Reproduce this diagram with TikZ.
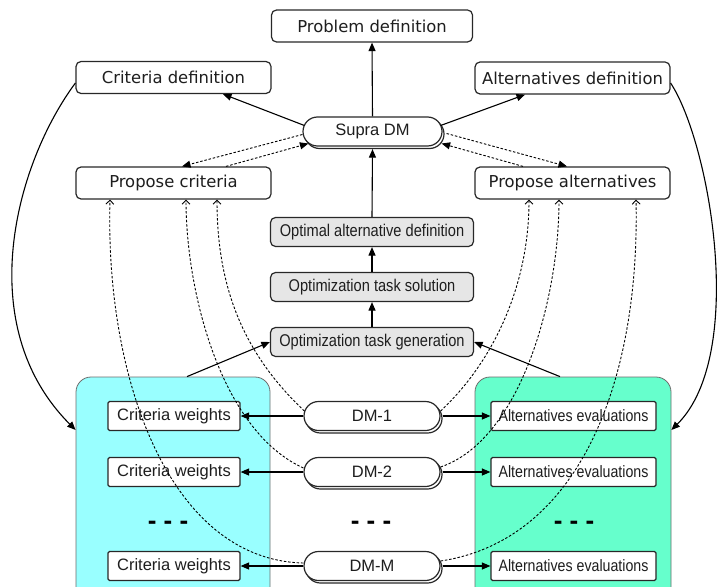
\documentclass[tikz,border=0pt]{standalone}
\usepackage{fontspec}
\usetikzlibrary{arrows.meta,shapes.misc,shadows,calc}
\newfontfamily\verd{DejaVu Sans}
\newfontfamily\ari{Liberation Sans}
\newfontfamily\arinar[FakeStretch=0.86]{Liberation Sans}
\definecolor{cyanp}{RGB}{153,255,255}
\definecolor{greenp}{RGB}{102,255,204}
\definecolor{grayb}{RGB}{230,230,230}
\definecolor{bord}{RGB}{40,40,40}
\definecolor{txt}{RGB}{30,30,30}
\definecolor{pbord}{RGB}{110,110,110}
\begin{document}
\begin{tikzpicture}[x=1pt,y=-1pt,
  topbox/.style={draw=bord, line width=1.2pt, rounded corners=5pt, fill=white,
    minimum width=#1, minimum height=32pt, inner sep=0pt, text=txt,
    font=\verd\fontsize{16.4}{18}\selectfont},
  graybox/.style={draw=bord, line width=1.2pt, rounded corners=5pt, fill=grayb,
    minimum width=203pt, minimum height=29pt, inner sep=0pt, text=txt,
    font=\arinar\fontsize{17}{19}\selectfont},
  pill/.style={rounded rectangle, draw=bord, line width=1.2pt, fill=white,
    minimum width=#1, minimum height=29pt, inner sep=0pt, text=txt,
    copy shadow={shadow xshift=2pt, shadow yshift=-2.5pt},
    font=\ari\fontsize{16.5}{18}\selectfont},
  wbox/.style={draw=bord, line width=1.2pt, rounded corners=1.5pt, fill=white,
    minimum width=#1, minimum height=29pt, inner sep=0pt, text=txt},
  panel/.style={draw=pbord, line width=0.8pt, rounded corners=15pt,
    minimum height=230pt, inner sep=0pt},
  dots/.style={font=\ari\bfseries\fontsize{26}{28}\selectfont, anchor=base, inner sep=0pt},
  arr/.style={-{Triangle[length=8.5pt,width=7pt]}, line width=1.1pt, draw=black},
  darr/.style={-{Triangle[length=8.5pt,width=7pt]}, line width=0.9pt,
    dash pattern=on 2.5pt off 1.8pt},
  dcur/.style={-{Straight Barb[length=4pt,width=8pt]}, line width=0.9pt,
    dash pattern=on 2.5pt off 1.8pt}
]
\useasboundingbox (0,0) rectangle (722,586);
\fill[white] (0,0) rectangle (722,586);

% panels
\node[panel, fill=cyanp, minimum width=194pt] (lp) at (173,492) {};
\node[panel, fill=greenp, minimum width=196pt] (rp) at (573,492) {};

% top boxes
\node[topbox=201pt] (pd) at (372,26) {Problem definition};
\node[topbox=195pt] (cd) at (173.5,77.5) {Criteria definition};
\node[topbox=195pt] (ad) at (572.5,78) {Alternatives definition};
\node[topbox=195pt] (pc) at (173.5,183) {Propose criteria};
\node[topbox=195pt] (pa) at (572.5,183) {Propose alternatives};
\node[pill=139pt] (sdm) at (372.5,131.5) {Supra DM};

% gray chain
\node[graybox] (opt) at (372,232) {Optimal alternative definition};
\node[graybox] (sol) at (372,287) {Optimization task solution};
\node[graybox] (gen) at (372,342) {Optimization task generation};

% rows
\node[wbox=132pt, font=\ari\fontsize{16.5}{18}\selectfont] (cw1) at (174,416) {Criteria weights};
\node[wbox=132pt, font=\ari\fontsize{16.5}{18}\selectfont] (cw2) at (174,472) {Criteria weights};
\node[wbox=132pt, font=\ari\fontsize{16.5}{18}\selectfont] (cw3) at (174,566) {Criteria weights};
\node[wbox=165pt, font=\arinar\fontsize{16.5}{18}\selectfont] (ae1) at (573.5,416) {Alternatives evaluations};
\node[wbox=165pt, font=\arinar\fontsize{16.5}{18}\selectfont] (ae2) at (573.5,472) {Alternatives evaluations};
\node[wbox=165pt, font=\arinar\fontsize{16.5}{18}\selectfont] (ae3) at (573.5,566) {Alternatives evaluations};
\node[pill=136pt] (dm1) at (372,416) {DM-1};
\node[pill=136pt] (dm2) at (372,472) {DM-2};
\node[pill=136pt] (dm3) at (372,566) {DM-M};

\node[dots] (d1) at (168,529) {- - -};
\node[dots] (d2) at (371,529) {- - -};
\node[dots] (d3) at (574,529) {- - -};

% solid connectors
\draw[arr] (sdm.north) -- (pd.south);
\draw[arr] (opt.north) -- ($(sdm.south)+(0,2.5)$);
\draw[arr] (sol.north) -- (opt.south);
\draw[arr] (gen.north) -- (sol.south);
\draw[arr] ($(sdm.west)+(2,-6)$) -- ($(cd.south)+(49.5,0)$);
\draw[arr] ($(sdm.east)+(-2,-6)$) -- ($(ad.south)+(-47.5,0)$);
\draw[arr] ($(lp.north)+(14,0)$) -- (gen.west);
\draw[arr] ($(rp.north)+(-13,0)$) -- (gen.east);

\draw[arr] (dm1.west) -- (cw1.east);
\draw[arr] (dm2.west) -- (cw2.east);
\draw[arr] (dm3.west) -- (cw3.east);
\draw[arr] ($(dm1.east)+(2,0)$) -- (ae1.west);
\draw[arr] ($(dm2.east)+(2,0)$) -- (ae2.west);
\draw[arr] ($(dm3.east)+(2,0)$) -- (ae3.west);

\draw[arr] ($(cd.west)+(0,5.5)$) .. controls (16,163) and (-29,325) .. (lp.west |- 0,430);
\draw[arr] ($(ad.east)+(0,5)$) .. controls (710,143) and (747,355) .. (rp.east |- 0,430);

% dashed supra links
\draw[darr] ($(sdm.west)+(0,3)$) -- ($(pc.north)+(8.5,0)$);
\draw[darr] ($(pc.north)+(52.5,0)$) -- ($(sdm.west)+(6,12)$);
\draw[darr] ($(sdm.east)+(4,2)$) -- ($(pa.north)+(-5.5,0)$);
\draw[darr] ($(pa.north)+(-49.5,0)$) -- ($(sdm.east)+(-1,12)$);

% dashed DM curves
\draw[dcur] ($(dm1.west)+(1,-5)$) .. controls (245,355) and (217,290) .. (pc.south -| 217,0);
\draw[dcur] ($(dm2.west)+(0,-4)$) .. controls (220,430) and (186,290) .. (pc.south -| 186,0);
\draw[dcur] ($(dm3.west)+(0,-3)$) .. controls (170,560) and (105,380) .. (pc.south -| 110,0);
\draw[dcur] ($(dm1.east)+(0,-5)$) .. controls (490,365) and (529,290) .. (pa.south -| 529,0);
\draw[dcur] ($(dm2.east)+(0,-5)$) .. controls (520,440) and (559,300) .. (pa.south -| 559,0);
\draw[dcur] ($(dm3.east)+(0,-5)$) .. controls (580,540) and (640,380) .. (pa.south -| 636,0);
\end{tikzpicture}
\end{document}
